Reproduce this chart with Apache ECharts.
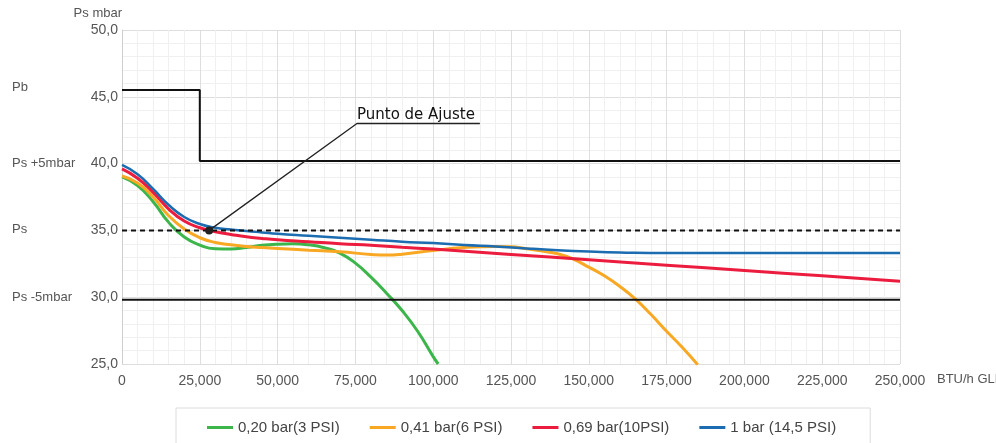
<!DOCTYPE html>
<html>
<head>
<meta charset="utf-8">
<script src="https://cdn.jsdelivr.net/npm/echarts@6/dist/echarts.min.js"></script>
<style>
html,body{margin:0;padding:0;background:#fff;}
#c{width:996px;height:443px;}
</style>
</head>
<body>
<div id="c"></div>
<script>
// ---- Data ----
const seriesNames = ['0,20 bar(3 PSI)', '0,41 bar(6 PSI)', '0,69 bar(10PSI)', '1 bar (14,5 PSI)'];
const seriesColors = ['#3cb54a', '#f8a823', '#ec1c3e', '#1b6cb0'];

const green = [[0,39.0],[5000,38.35],[10000,37.15],[15000,35.6],[20000,34.5],[25000,33.9],[30000,33.62],[35000,33.6],[40000,33.72],[45000,33.88],[50000,33.97],[55000,34.0],[60000,33.92],[65000,33.7],[70000,33.3],[75000,32.55],[80000,31.5],[85000,30.3],[90000,29.0],[95000,27.45],[100000,25.55],[101600,25.0]];
const orange = [[0,39.07],[5000,38.55],[10000,37.5],[15000,36.1],[20000,35.1],[25000,34.45],[30000,34.1],[35000,33.92],[40000,33.8],[45000,33.72],[50000,33.65],[60000,33.52],[70000,33.4],[80000,33.2],[85000,33.15],[90000,33.22],[100000,33.5],[110000,33.72],[120000,33.8],[125000,33.78],[130000,33.62],[135000,33.45],[140000,33.25],[145000,32.85],[150000,32.25],[155000,31.6],[160000,30.8],[165000,29.85],[170000,28.7],[175000,27.45],[180000,26.25],[185000,24.95]];
const red = [[0,39.6],[5000,38.9],[10000,37.85],[15000,36.6],[20000,35.7],[25000,35.2],[30000,34.9],[35000,34.7],[40000,34.52],[45000,34.4],[50000,34.3],[60000,34.15],[70000,34.0],[80000,33.88],[90000,33.74],[100000,33.6],[125000,33.2],[150000,32.8],[175000,32.4],[200000,32.0],[225000,31.6],[250000,31.2]];
const blue = [[0,39.9],[5000,39.2],[10000,38.1],[15000,36.9],[20000,36.0],[25000,35.48],[30000,35.2],[35000,35.07],[40000,34.95],[45000,34.85],[50000,34.75],[60000,34.6],[70000,34.45],[80000,34.3],[90000,34.15],[100000,34.05],[110000,33.9],[120000,33.8],[130000,33.65],[140000,33.52],[150000,33.42],[160000,33.35],[175000,33.3],[200000,33.3],[225000,33.3],[250000,33.3]];

const pbLine = [[0,45.5],[25000,45.5],[25000,40.2],[250000,40.2]];
const psLine = [[0,35],[250000,35]];
const psMinusLine = [[0,29.8],[250000,29.8]];
const ajusteLine = [[28000,35],[75500,43],[115000,43]];
const ajusteText = 'Punto de Ajuste';

const sideLabels = [
  {text:'Pb', y:87},
  {text:'Ps +5mbar', y:163},
  {text:'Ps', y:229},
  {text:'Ps -5mbar', y:297}
];

const xMin = 0, xMax = 250000, xInterval = 25000;
const yMin = 25, yMax = 50, yInterval = 5;

// ---- Chart ----
const chart = echarts.init(document.getElementById('c'));
const curveData = [green, orange, red, blue];
const curves = curveData.map((d, i) => ({
  name: seriesNames[i],
  type: 'line',
  data: d,
  smooth: 0.5,
  showSymbol: false,
  symbol: 'none',
  lineStyle: {color: seriesColors[i], width: i === 3 ? 2.5 : 3},
  itemStyle: {color: seriesColors[i]},
  z: 2 + i,
  animation: false
}));

const txtColor = '#555';
const option = {
  animation: false,
  backgroundColor: '#fff',
  grid: {left: 122, right: 96, top: 30, bottom: 79, containLabel: false},
  legend: {
    data: seriesNames,
    left: 176, top: 408,
    padding: [12, 34, 30, 31],
    borderColor: '#dcdcdc', borderWidth: 1,
    icon: 'rect', itemWidth: 26, itemHeight: 3, itemGap: 30,
    textStyle: {fontFamily: 'Liberation Sans, Arial', fontSize: 15, color: '#444'}
  },
  xAxis: {
    type: 'value', min: xMin, max: xMax, interval: xInterval,
    axisLine: {show: false},
    axisTick: {show: false},
    axisLabel: {
      color: txtColor, fontSize: 14, fontFamily: 'Liberation Sans, Arial', margin: 10,
      formatter: v => v === 0 ? '0' : v.toLocaleString('en-US')
    },
    splitLine: {show: true, lineStyle: {color: '#dedede', width: 1}},
    minorTick: {show: false, splitNumber: 5},
    minorSplitLine: {show: true, lineStyle: {color: '#f0f0f0', width: 1}}
  },
  yAxis: {
    type: 'value', min: yMin, max: yMax, interval: yInterval,
    name: 'Ps mbar', nameLocation: 'end', nameGap: 10,
    nameTextStyle: {color: txtColor, fontSize: 13, fontFamily: 'Liberation Sans, Arial', align: 'right'},
    axisLine: {show: true, lineStyle: {color: '#cfcfcf', width: 1}},
    axisTick: {show: false},
    axisLabel: {
      color: txtColor, fontSize: 14, fontFamily: 'Liberation Sans, Arial', margin: 4,
      formatter: v => v.toFixed(1).replace('.', ',')
    },
    splitLine: {show: true, lineStyle: {color: '#dedede', width: 1}},
    minorTick: {show: false, splitNumber: 5},
    minorSplitLine: {show: true, lineStyle: {color: '#f0f0f0', width: 1}}
  },
  graphic: sideLabels.map(s => ({
    type: 'text', left: 12, top: s.y - 6,
    style: {text: s.text, fill: txtColor, font: '13px "Liberation Sans", Arial'}
  })).concat([{
    type: 'text', left: 937, top: 373,
    style: {text: 'BTU/h GLP', fill: txtColor, font: '13px "Liberation Sans", Arial'}
  }]),
  series: curves.concat([
    {type: 'line', name: 'Pb', data: pbLine, symbol: 'none', lineStyle: {color: '#111', width: 2}, z: 10},
    {type: 'line', name: 'Ps', data: psLine, symbol: 'none', lineStyle: {color: '#111', width: 2, type: [5, 4]}, z: 10},
    {type: 'line', name: 'Ps-5', data: psMinusLine, symbol: 'none', lineStyle: {color: '#111', width: 2}, z: 10},
    {
      type: 'line', name: 'ajuste', data: ajusteLine.map((p, i) => {
        const o = {value: p, symbol: 'circle', symbolSize: i === 0 ? 8 : 0};
        if (i === 1) {
          o.label = {show: true, position: 'top', align: 'left', distance: 1, formatter: ajusteText,
            color: '#111', fontSize: 15, fontFamily: 'DejaVu Sans', fontWeight: 'normal'};
        }
        return o;
      }),
      showSymbol: true,
      showAllSymbol: true,
      lineStyle: {color: '#222', width: 1.3},
      itemStyle: {color: '#222'},
      z: 12
    }
  ])
};
chart.setOption(option);
</script>
</body>
</html>
